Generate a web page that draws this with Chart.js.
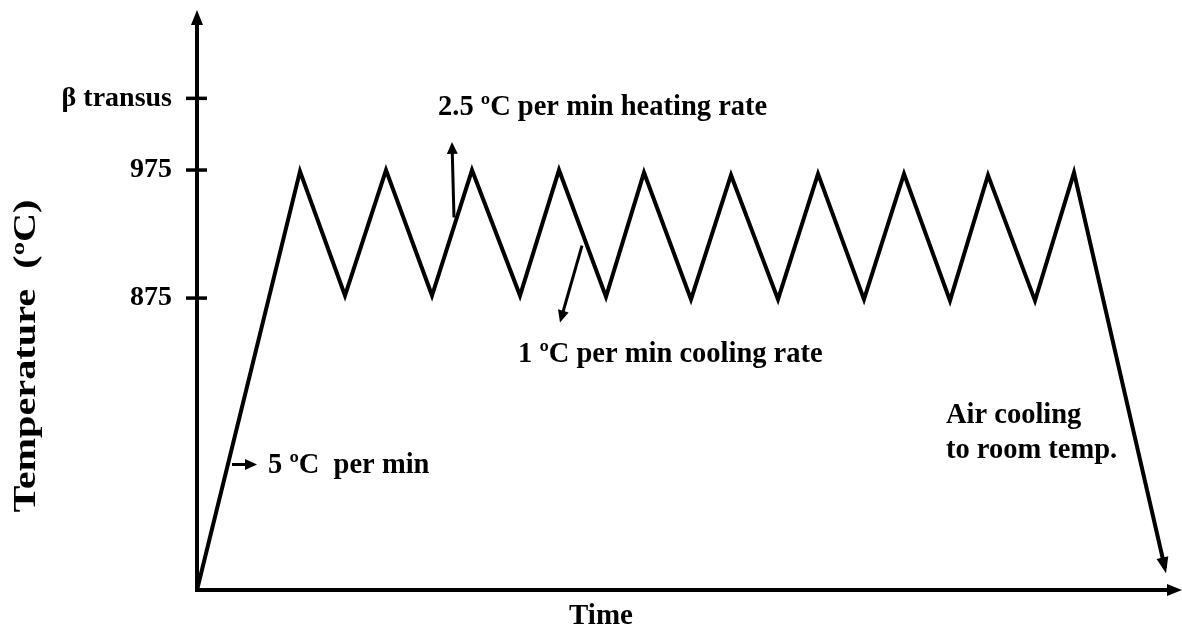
<!DOCTYPE html>
<html>

<head>
  <meta charset="UTF-8">
  <meta name="viewport" content="width=device-width, initial-scale=1.0">
  <style>
    body { margin: 0; background: #fff; }
    #wrap { width: 1182px; height: 637px; position: relative; }
  </style>
</head>

<body>
  <div id="wrap"><canvas id="cycleChart"></canvas></div>

  <script src="https://cdn.jsdelivr.net/npm/chart.js@4.4.0/dist/chart.umd.min.js"></script>
  <script>
    // thermal cycle: time (arbitrary units) and temperature (°C, schematic)
    const times = [0, 10.3, 14.8, 18.9, 23.5, 27.5, 32.3, 36.2, 40.9, 44.7, 49.4,
      53.4, 58.1, 62.1, 66.7, 70.7, 75.3, 79.1, 83.8, 87.7, 96.8]
    const temps = [647, 974, 877, 975, 877, 975, 877, 975, 876, 973, 874,
      971, 874, 972, 874, 972, 873, 971, 873, 973, 664]

    // axis ticks
    const tickValues = [875, 975, 1031]
    const tickLabels = ["875", "975", "β transus"]

    // rate notes: [text, time, temp]
    const notes = [
      ["2.5 ºC per min heating rate", 24.1, 1024],
      ["1 ºC per min cooling rate", 32.1, 831],
      ["5 ºC  per min", 7.1, 744],
      ["Air cooling", 74.9, 783],
      ["to room temp.", 74.9, 756]
    ]
    // pointer arrows: [fromTime, fromTemp, toTime, toTemp]
    const pointers = [
      [25.7, 938, 25.5, 997],
      [38.5, 916, 36.3, 856],
      [3.5, 745, 6.0, 745]
    ]

    const FONT = "'Liberation Serif', 'Times New Roman', serif"

    function arrowHead(ctx, x0, y0, x1, y1, len, half) {
      const a = Math.atan2(y1 - y0, x1 - x0)
      ctx.save()
      ctx.translate(x1, y1)
      ctx.rotate(a)
      ctx.beginPath()
      ctx.moveTo(0, 0)
      ctx.lineTo(-len, -half)
      ctx.lineTo(-len, half)
      ctx.closePath()
      ctx.fill()
      ctx.restore()
    }

    const sketchPlugin = {
      id: "sketch",
      afterDatasetsDraw(chart) {
        const { ctx, chartArea: area, scales: { x, y } } = chart
        ctx.save()
        ctx.strokeStyle = "#000"
        ctx.fillStyle = "#000"

        // axes with arrowheads
        ctx.lineWidth = 4
        ctx.beginPath()
        ctx.moveTo(area.left, area.bottom + 2)
        ctx.lineTo(area.left, area.top + 12)
        ctx.moveTo(area.left - 2, area.bottom)
        ctx.lineTo(area.right - 12, area.bottom)
        ctx.stroke()
        arrowHead(ctx, area.left, area.bottom, area.left, area.top, 15, 6)
        arrowHead(ctx, area.left, area.bottom, area.right, area.bottom, 15, 6)

        // tick marks crossing the temperature axis
        ctx.lineWidth = 3.5
        for (const v of tickValues) {
          const py = y.getPixelForValue(v)
          ctx.beginPath()
          ctx.moveTo(area.left - 11, py)
          ctx.lineTo(area.left + 10, py)
          ctx.stroke()
        }

        // arrowhead at the end of the air cooling segment
        const n = times.length
        arrowHead(ctx,
          x.getPixelForValue(times[n - 2]), y.getPixelForValue(temps[n - 2]),
          x.getPixelForValue(times[n - 1]) + 1, y.getPixelForValue(temps[n - 1]) + 5, 16, 6)

        // pointer arrows
        ctx.lineWidth = 3
        for (const [t0, v0, t1, v1] of pointers) {
          const x0 = x.getPixelForValue(t0), y0 = y.getPixelForValue(v0)
          const x1 = x.getPixelForValue(t1), y1 = y.getPixelForValue(v1)
          const a = Math.atan2(y1 - y0, x1 - x0)
          ctx.beginPath()
          ctx.moveTo(x0, y0)
          ctx.lineTo(x1 - 9 * Math.cos(a), y1 - 9 * Math.sin(a))
          ctx.stroke()
          arrowHead(ctx, x0, y0, x1, y1, 12, 5.5)
        }

        // notes
        ctx.font = "bold 28.5px " + FONT
        ctx.textAlign = "left"
        ctx.textBaseline = "middle"
        for (const [text, t, v] of notes) {
          ctx.fillText(text, x.getPixelForValue(t), y.getPixelForValue(v))
        }

        // axis titles
        ctx.font = "bold 29px " + FONT
        ctx.textAlign = "center"
        ctx.fillText("Time", 601, 617)

        ctx.save()
        ctx.font = "bold 31px " + FONT
        const label = "Temperature  (ºC)"
        const w = ctx.measureText(label).width
        ctx.translate(27, 356)
        ctx.rotate(-Math.PI / 2)
        ctx.scale(313 / w, 1)
        ctx.fillText(label, 0, 0)
        ctx.restore()

        ctx.restore()
      }
    }

    const ctx = document.getElementById("cycleChart").getContext("2d")

    const chart = new Chart(ctx, {
      type: "line",
      data: {
        datasets: [{
          data: times.map((t, i) => ({ x: t, y: temps[i] })),
          borderColor: "#000",
          borderWidth: 4,
          borderJoinStyle: "miter",
          pointRadius: 0,
          tension: 0,
          clip: false
        }]
      },
      options: {
        responsive: true,
        maintainAspectRatio: false,
        animation: false,
        layout: { padding: { top: 10, right: 0, bottom: 47, left: 0 } },
        plugins: { legend: { display: false }, tooltip: { enabled: false } },
        scales: {
          x: { type: "linear", min: 0, max: 98.5, display: false },
          y: {
            type: "linear",
            min: 647,
            max: 1100,
            afterBuildTicks: (scale) => { scale.ticks = tickValues.map(v => ({ value: v })) },
            afterFit: (scale) => {
              scale.width = 197
              scale.paddingTop = 0
              scale.paddingBottom = 0
            },
            grid: { display: false, drawTicks: false },
            border: { display: false },
            ticks: {
              padding: 25,
              color: "#000",
              font: { family: FONT, size: 28, weight: "bold" },
              callback: (v) => tickLabels[tickValues.indexOf(v)]
            }
          }
        }
      },
      plugins: [sketchPlugin]
    })
  </script>
</body>
</html>
